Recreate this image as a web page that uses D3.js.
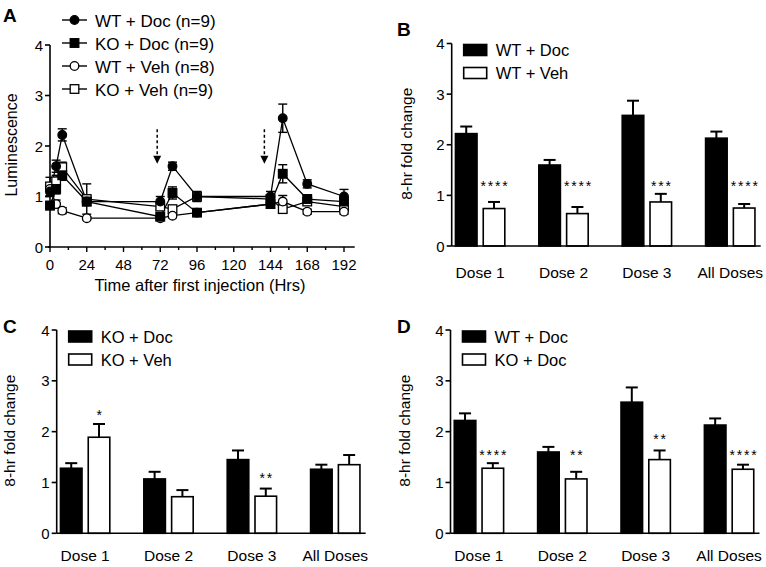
<!DOCTYPE html>
<html><head><meta charset="utf-8">
<script src="https://cdn.jsdelivr.net/npm/d3@7/dist/d3.min.js"></script>
<style>
html,body{margin:0;padding:0;background:#fff;}
svg{display:block;font-family:"Liberation Sans",Arial,sans-serif;}
</style></head>
<body>
<svg id="chart" width="766" height="567"></svg>
<script>
// ---------- Panel A data ----------
const times = [0, 4, 8, 24, 72, 80, 96, 144, 152, 168, 192];
const xTicksA = [0, 24, 48, 72, 96, 120, 144, 168, 192];
const yTicks = [0, 1, 2, 3, 4];
const arrowTimes = [70, 140];
const wtDoc    = [1.10, 1.60, 2.22, 0.90, 0.90, 1.60, 1.00, 1.00, 2.55, 1.25, 1.00];
const wtDocErr = [0.10, 0.12, 0.12, 0.08, 0.10, 0.08, 0.10, 0.10, 0.28, 0.08, 0.14];
const koDoc    = [0.82, 1.15, 1.42, 0.90, 0.60, 1.07, 0.68, 0.85, 1.45, 0.95, 0.90];
const koDocErr = [0.08, 0.10, 0.10, 0.08, 0.06, 0.12, 0.05, 0.08, 0.18, 0.08, 0.10];
const wtVeh    = [1.15, 0.85, 0.72, 0.57, 0.57, 0.62, 0.68, 0.85, 0.90, 0.70, 0.70];
const wtVehErr = [0.08, 0.08, 0.06, 0.03, 0.04, 0.04, 0.04, 0.06, 0.12, 0.05, 0.05];
const koVeh    = [1.20, 1.30, 1.58, 0.95, 0.80, 0.75, 1.00, 0.95, 0.75, 0.90, 0.80];
const koVehErr = [0.18, 0.12, 0.10, 0.30, 0.06, 0.05, 0.06, 0.08, 0.05, 0.06, 0.06];
const seriesNamesA = ["WT + Doc (n=9)", "KO + Doc (n=9)", "WT + Veh (n=8)", "KO + Veh (n=9)"];

// ---------- Bar panels data ----------
const doses = ["Dose 1", "Dose 2", "Dose 3", "All Doses"];
const barWtDoc    = [2.22, 1.60, 2.58, 2.13];
const barWtDocErr = [0.14, 0.10, 0.29, 0.13];
const barWtVeh    = [0.74, 0.64, 0.87, 0.75];
const barWtVehErr = [0.13, 0.13, 0.16, 0.08];
const barKoDoc    = [1.28, 1.07, 1.45, 1.26];
const barKoDocErr = [0.10, 0.14, 0.18, 0.09];
const barKoVeh    = [1.89, 0.72, 0.73, 1.35];
const barKoVehErr = [0.26, 0.13, 0.15, 0.19];
const starsB = ["****", "****", "***", "****"];
const starLevelB = [1.24, 1.24, 1.24, 1.24];
const starsC = ["*", "", "**", ""];
const starLevelC = [2.38, 0, 1.14, 0];
const starsD = ["****", "**", "**", "****"];
const starLevelD = [1.59, 1.59, 1.91, 1.59];

const svg = d3.select("#chart");
const FONT_TICK = 15;

function yAxis(g, y, x0, labelSize) {
  g.append("line").attr("x1", x0).attr("x2", x0).attr("y1", y(0)).attr("y2", y(4))
    .attr("stroke", "#000").attr("stroke-width", 1.6);
  yTicks.forEach(t => {
    g.append("line").attr("x1", x0 - 5).attr("x2", x0).attr("y1", y(t)).attr("y2", y(t))
      .attr("stroke", "#000").attr("stroke-width", 1.6);
    g.append("text").attr("x", x0 - 7).attr("y", y(t) + 5.5).attr("text-anchor", "end")
      .attr("font-size", labelSize).text(t);
  });
}

// ================= Panel A =================
(function () {
  const g = svg.append("g");
  const x = d3.scaleLinear().domain([0, 192]).range([50, 344]);
  const y = d3.scaleLinear().domain([0, 4]).range([247, 45]);
  yAxis(g, y, 50, FONT_TICK);
  // x axis
  g.append("line").attr("x1", 48).attr("x2", x(199)).attr("y1", y(0)).attr("y2", y(0))
    .attr("stroke", "#000").attr("stroke-width", 1.6);
  d3.range(0, 199, 12).forEach(t => {
    const major = xTicksA.includes(t);
    g.append("line").attr("x1", x(t)).attr("x2", x(t)).attr("y1", y(0)).attr("y2", y(0) + (major ? 5 : 3))
      .attr("stroke", "#000").attr("stroke-width", 1.4);
  });
  xTicksA.forEach(t => {
    g.append("text").attr("x", x(t)).attr("y", 270).attr("text-anchor", "middle")
      .attr("font-size", FONT_TICK).text(t);
  });
  g.append("text").attr("x", 200).attr("y", 291).attr("text-anchor", "middle")
    .attr("font-size", 16.5).text("Time after first injection (Hrs)");
  g.append("text").attr("transform", "translate(16.5," + 145 + ") rotate(-90)")
    .attr("text-anchor", "middle").attr("font-size", 16).text("Luminescence");
  g.append("text").attr("x", 3).attr("y", 22).attr("font-size", 19).attr("font-weight", "bold").text("A");

  // arrows
  arrowTimes.forEach(t => {
    g.append("line").attr("x1", x(t)).attr("x2", x(t)).attr("y1", y(2.33)).attr("y2", y(1.78))
      .attr("stroke", "#000").attr("stroke-width", 1.5).attr("stroke-dasharray", "3,2.5");
    const tip = y(1.65);
    g.append("path").attr("d", `M${x(t) - 4},${tip - 8} L${x(t) + 4},${tip - 8} L${x(t)},${tip} Z`).attr("fill", "#000");
  });

  const series = [
    { v: wtDoc, e: wtDocErr, shape: "circle", fill: "#000" },
    { v: koDoc, e: koDocErr, shape: "square", fill: "#000" },
    { v: wtVeh, e: wtVehErr, shape: "circle", fill: "#fff" },
    { v: koVeh, e: koVehErr, shape: "square", fill: "#fff" }
  ];
  const line = d3.line().x((d, i) => x(times[i])).y(d => y(d));
  series.forEach(s => {
    g.append("path").attr("d", line(s.v)).attr("fill", "none").attr("stroke", "#000").attr("stroke-width", 1.3);
  });
  series.forEach(s => {
    s.v.forEach((v, i) => {
      const cx = x(times[i]);
      g.append("line").attr("x1", cx).attr("x2", cx).attr("y1", y(v - s.e[i])).attr("y2", y(v + s.e[i]))
        .attr("stroke", "#000").attr("stroke-width", 1.4);
      [v - s.e[i], v + s.e[i]].forEach(c => {
        g.append("line").attr("x1", cx - 4.5).attr("x2", cx + 4.5).attr("y1", y(c)).attr("y2", y(c))
          .attr("stroke", "#000").attr("stroke-width", 1.4);
      });
    });
  });
  function marker(gg, shape, fill, cx, cy) {
    if (shape === "circle") {
      gg.append("circle").attr("cx", cx).attr("cy", cy).attr("r", 4.3)
        .attr("fill", fill).attr("stroke", "#000").attr("stroke-width", 1.3);
    } else {
      gg.append("rect").attr("x", cx - 4.3).attr("y", cy - 4.3).attr("width", 8.6).attr("height", 8.6)
        .attr("fill", fill).attr("stroke", "#000").attr("stroke-width", 1.3);
    }
  }
  series.slice().reverse().forEach(s => {
    s.v.forEach((v, i) => marker(g, s.shape, s.fill, x(times[i]), y(v)));
  });
  // legend
  series.forEach((s, i) => {
    const ly = 20 + i * 23;
    g.append("line").attr("x1", 62).attr("x2", 87).attr("y1", ly).attr("y2", ly)
      .attr("stroke", "#000").attr("stroke-width", 1.4);
    marker(g, s.shape, s.fill, 74.5, ly);
    g.append("text").attr("x", 95).attr("y", ly + 6.5).attr("font-size", 17).text(seriesNamesA[i]);
  });
})();

// ================= Bar panels =================
function barPanel(opts) {
  const g = svg.append("g");
  const y = d3.scaleLinear().domain([0, 4]).range([opts.y0, opts.y4]);
  const x = d3.scaleBand().domain(doses).range([opts.xAxis, opts.xAxis + 307])
    .paddingInner(0.39).paddingOuter(0.036);
  const xs = d3.scaleBand().domain([0, 1]).range([0, x.bandwidth()]).paddingInner(0.17);
  yAxis(g, y, opts.xAxis, FONT_TICK);

  const groups = [
    { v: opts.a, e: opts.ae, fill: "#000" },
    { v: opts.b, e: opts.be, fill: "#fff" }
  ];
  groups.forEach((s, si) => {
    s.v.forEach((v, i) => {
      const bx = x(doses[i]) + xs(si);
      const cx = bx + xs.bandwidth() / 2;
      g.append("line").attr("x1", cx).attr("x2", cx).attr("y1", y(v)).attr("y2", y(v + s.e[i]))
        .attr("stroke", "#000").attr("stroke-width", 2);
      g.append("line").attr("x1", cx - 6).attr("x2", cx + 6).attr("y1", y(v + s.e[i])).attr("y2", y(v + s.e[i]))
        .attr("stroke", "#000").attr("stroke-width", 2);
      g.append("rect").attr("x", bx + 0.75).attr("y", y(v)).attr("width", xs.bandwidth() - 1.5)
        .attr("height", y(0) - y(v)).attr("fill", s.fill).attr("stroke", "#000").attr("stroke-width", 1.6);
    });
  });
  // x axis
  g.append("line").attr("x1", opts.xAxis).attr("x2", opts.xAxis + 309).attr("y1", y(0)).attr("y2", y(0))
    .attr("stroke", "#000").attr("stroke-width", 1.6);
  doses.forEach(d => {
    g.append("text").attr("x", x(d) + x.bandwidth() / 2).attr("y", opts.y0 + opts.catDy).attr("text-anchor", "middle")
      .attr("font-size", 15.5).text(d);
  });
  // stars
  opts.stars.forEach((st, i) => {
    if (!st) return;
    const cx = x(doses[i]) + xs(1) + xs.bandwidth() / 2;
    g.append("text").attr("x", cx + 1).attr("y", y(opts.starLevel[i]) + 8).attr("text-anchor", "middle")
      .attr("font-size", 14).attr("letter-spacing", 1.8).text(st);
  });
  // y title
  g.append("text").attr("transform", `translate(${opts.titleX},${(opts.y0 + opts.y4) / 2 - 1}) rotate(-90)`)
    .attr("text-anchor", "middle").attr("font-size", 15.5).text("8-hr fold change");
  // panel label
  g.append("text").attr("x", opts.labelX).attr("y", opts.y4 - 8 - (opts.labelDy || 0)).attr("font-size", 19)
    .attr("font-weight", "bold").text(opts.label);
  // legend
  opts.legend.forEach((name, i) => {
    const base = opts.y4 + 12.5 + i * 23;
    g.append("rect").attr("x", opts.xAxis + 12).attr("y", base - 11.5).attr("width", 23).attr("height", 11)
      .attr("fill", i === 0 ? "#000" : "#fff").attr("stroke", "#000").attr("stroke-width", 1.6);
    g.append("text").attr("x", opts.xAxis + 44).attr("y", base).attr("font-size", 16.5).text(name);
  });
}

barPanel({ label: "B", labelX: 397, labelDy: 0, xAxis: 451.7, y0: 246, y4: 43.5, titleX: 412, catDy: 32,
  a: barWtDoc, ae: barWtDocErr, b: barWtVeh, be: barWtVehErr,
  stars: starsB, starLevel: starLevelB, legend: ["WT + Doc", "WT + Veh"] });
barPanel({ label: "C", labelX: 3, labelDy: -11, xAxis: 56.7, y0: 533.3, y4: 330, titleX: 15, catDy: 28,
  a: barKoDoc, ae: barKoDocErr, b: barKoVeh, be: barKoVehErr,
  stars: starsC, starLevel: starLevelC, legend: ["KO + Doc", "KO + Veh"] });
barPanel({ label: "D", labelX: 397, labelDy: -11, xAxis: 450.5, y0: 533.3, y4: 330, titleX: 410, catDy: 28,
  a: barWtDoc, ae: barWtDocErr, b: barKoDoc, be: barKoDocErr,
  stars: starsD, starLevel: starLevelD, legend: ["WT + Doc", "KO + Doc"] });
</script>
</body></html>
